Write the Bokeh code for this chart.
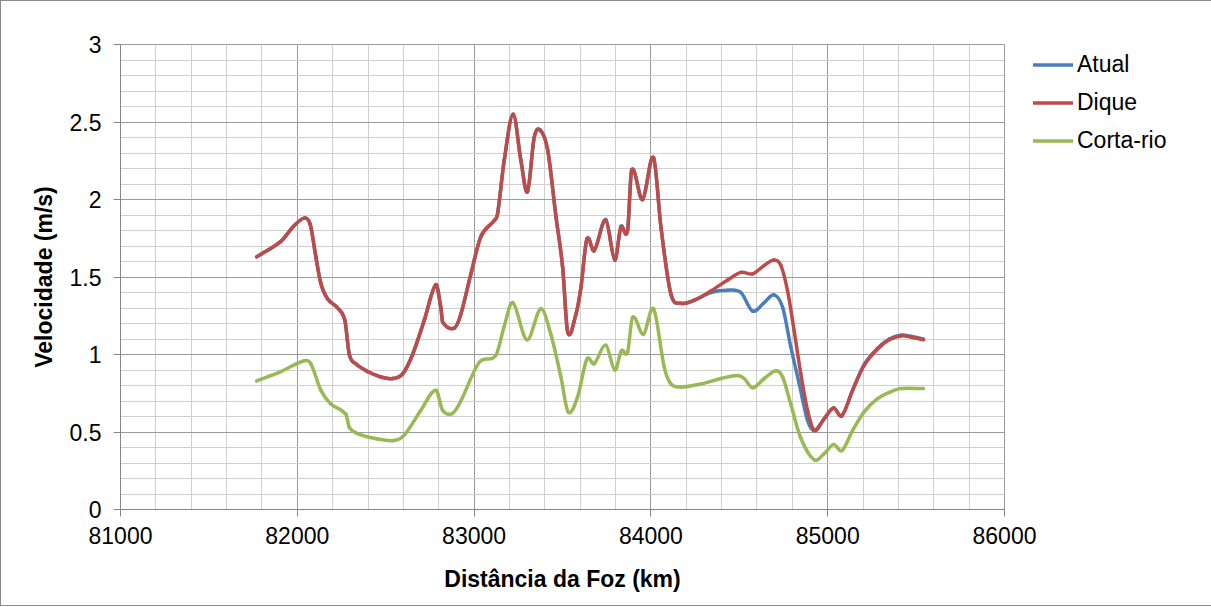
from bokeh.plotting import figure
from bokeh.models import Range1d, FixedTicker, NumeralTickFormatter, Legend, LegendItem
from bokeh.embed import file_html
from bokeh.resources import INLINE

# ---------------- data ----------------
x_dique = [81770, 81907, 81973, 82039, 82073, 82105, 82133, 82171, 82228, 82269, 82294, 82331,
           82398, 82473, 82539, 82596, 82652, 82718, 82784, 82812, 82822, 82888, 82925, 82982,
           83038, 83114, 83133, 83170, 83221, 83265, 83302, 83340, 83374, 83416, 83463, 83501,
           83529, 83576, 83604, 83638, 83679, 83745, 83796, 83830, 83868, 83891, 83953, 84015,
           84057, 84113, 84170, 84245, 84339, 84434, 84509, 84575, 84641, 84697, 84735, 84773,
           84810, 84848, 84886, 84924, 84980, 85033, 85080, 85141, 85206, 85282, 85348, 85414,
           85480, 85542]
v_dique = [1.63, 1.73, 1.82, 1.88, 1.84, 1.63, 1.46, 1.36, 1.30, 1.22, 1.00, 0.94,
           0.89, 0.855, 0.845, 0.875, 1.00, 1.22, 1.45, 1.30, 1.21, 1.17, 1.26, 1.52,
           1.76, 1.865, 1.91, 2.25, 2.55, 2.25, 2.05, 2.40, 2.445, 2.32, 1.89, 1.56,
           1.145, 1.26, 1.43, 1.745, 1.67, 1.865, 1.61, 1.82, 1.80, 2.19, 2.00, 2.27,
           1.82, 1.39, 1.33, 1.35, 1.41, 1.48, 1.53, 1.52, 1.575, 1.61, 1.575, 1.41,
           1.155, 0.875, 0.64, 0.51, 0.585, 0.655, 0.605, 0.77, 0.93, 1.035, 1.095, 1.12,
           1.11, 1.095]

x_atual = [81770, 81907, 81973, 82039, 82073, 82105, 82133, 82171, 82228, 82269, 82294, 82331,
           82398, 82473, 82539, 82596, 82652, 82718, 82784, 82812, 82822, 82888, 82925, 82982,
           83038, 83114, 83133, 83170, 83221, 83265, 83302, 83340, 83374, 83416, 83463, 83501,
           83529, 83576, 83604, 83638, 83679, 83745, 83796, 83830, 83868, 83891, 83953, 84015,
           84057, 84113, 84170, 84245, 84339, 84434, 84509, 84575, 84641, 84697, 84745, 84791,
           84839, 84886, 84924, 84980, 85033, 85080, 85141, 85206, 85282, 85348, 85414,
           85480, 85542]
v_atual = [1.63, 1.73, 1.82, 1.88, 1.84, 1.63, 1.46, 1.36, 1.30, 1.22, 1.00, 0.94,
           0.89, 0.855, 0.845, 0.875, 1.00, 1.22, 1.45, 1.30, 1.21, 1.17, 1.26, 1.52,
           1.76, 1.865, 1.91, 2.25, 2.55, 2.25, 2.05, 2.40, 2.45, 2.32, 1.89, 1.56,
           1.145, 1.26, 1.43, 1.745, 1.67, 1.87, 1.61, 1.825, 1.80, 2.19, 2.00, 2.27,
           1.82, 1.39, 1.33, 1.35, 1.40, 1.415, 1.40, 1.28, 1.335, 1.385, 1.305, 1.05,
           0.81, 0.575, 0.51, 0.585, 0.655, 0.605, 0.77, 0.935, 1.04, 1.10, 1.125,
           1.115, 1.10]

x_corta = [81770, 81907, 82039, 82077, 82133, 82190, 82275, 82294, 82341, 82454, 82548, 82605,
           82699, 82784, 82822, 82878, 82925, 83029, 83123, 83170, 83218, 83299, 83378, 83434,
           83491, 83532, 83585, 83638, 83679, 83745, 83796, 83834, 83868, 83896, 83958, 84015,
           84075, 84113, 84170, 84283, 84396, 84490, 84528, 84575, 84641, 84707, 84745, 84791,
           84848, 84924, 84980, 85033, 85080, 85141, 85206, 85282, 85348, 85414, 85542]
v_corta = [0.83, 0.89, 0.96, 0.94, 0.77, 0.68, 0.615, 0.53, 0.49, 0.455, 0.445, 0.48,
           0.64, 0.77, 0.64, 0.62, 0.70, 0.95, 0.995, 1.18, 1.335, 1.095, 1.295, 1.13,
           0.855, 0.63, 0.725, 0.97, 0.94, 1.06, 0.90, 1.025, 1.015, 1.24, 1.13, 1.295,
           0.92, 0.81, 0.79, 0.81, 0.845, 0.865, 0.845, 0.785, 0.845, 0.895, 0.855, 0.68,
           0.46, 0.32, 0.36, 0.42, 0.38, 0.51, 0.63, 0.715, 0.755, 0.78, 0.78]

series_names = ["Atual", "Dique", "Corta-rio"]
x_ticks = [81000, 82000, 83000, 84000, 85000, 86000]
y_ticks = [0, 0.5, 1, 1.5, 2, 2.5, 3]
x_label = "Distância da Foz (km)"
y_label = "Velocidade (m/s)"

# ---------------- styles ----------------
FONT = "Liberation Sans"
FS = "23px"
C_BLUE = "#4A7EBB"
C_RED = "#BE4B48"
C_GREEN = "#98B954"
MAJOR_GRID = "#9a9a9a"
MINOR_GRID = "#cfcfcf"
LW = 3.5

x_minor = [81000 + 200 * i for i in range(26)]
y_minor = [round(0.1 * i, 1) for i in range(31)]


def smooth_segments(xs, ys):
    """Bezier segments (Excel-like smoothed line) through the read points."""
    n = len(xs)
    m = []
    for i in range(n):
        if i == 0:
            m.append((ys[1] - ys[0]) / (xs[1] - xs[0]))
        elif i == n - 1:
            m.append((ys[-1] - ys[-2]) / (xs[-1] - xs[-2]))
        else:
            m.append((ys[i + 1] - ys[i - 1]) / (xs[i + 1] - xs[i - 1]))
    d = dict(x0=[], y0=[], x1=[], y1=[], cx0=[], cy0=[], cx1=[], cy1=[])
    for i in range(n - 1):
        h = xs[i + 1] - xs[i]
        d["x0"].append(xs[i]); d["y0"].append(ys[i])
        d["x1"].append(xs[i + 1]); d["y1"].append(ys[i + 1])
        d["cx0"].append(xs[i] + h / 3); d["cy0"].append(ys[i] + m[i] * h / 3)
        d["cx1"].append(xs[i + 1] - h / 3); d["cy1"].append(ys[i + 1] - m[i + 1] * h / 3)
    return d


p = figure(frame_width=884, frame_height=465, output_backend="svg", toolbar_location=None,
           x_range=Range1d(81000, 86000), y_range=Range1d(0, 3),
           min_border_left=119, min_border_right=204, min_border_top=43, min_border_bottom=96)
p.styles = {"border": "1px solid #8a8a8a"}
p.background_fill_color = "white"
p.border_fill_color = "white"
p.outline_line_color = MAJOR_GRID

xt = FixedTicker(ticks=x_ticks, minor_ticks=x_minor)
yt = FixedTicker(ticks=y_ticks, minor_ticks=y_minor)
p.xaxis.ticker = xt
p.yaxis.ticker = yt
p.xgrid.ticker = xt
p.ygrid.ticker = yt
for g in (p.xgrid, p.ygrid):
    g.grid_line_color = MAJOR_GRID
    g.grid_line_width = 1
    g.minor_grid_line_color = MINOR_GRID
    g.minor_grid_line_width = 1

p.xaxis.formatter = NumeralTickFormatter(format="0")
p.yaxis.formatter = NumeralTickFormatter(format="0.[0]")

for ax in (p.xaxis, p.yaxis):
    ax.axis_line_color = "#868686"
    ax.major_tick_line_color = "#868686"
    ax.major_tick_in = 0
    ax.major_tick_out = 7
    ax.minor_tick_line_color = None
    ax.major_label_text_font = FONT
    ax.major_label_text_font_size = FS
    ax.major_label_text_color = "black"
    ax.axis_label_text_font = FONT
    ax.axis_label_text_font_size = FS
    ax.axis_label_text_font_style = "bold"
    ax.axis_label_text_color = "black"

p.xaxis.axis_label = x_label
p.yaxis.axis_label = y_label
p.xaxis.major_label_standoff = 10
p.xaxis.axis_label_standoff = 19
p.yaxis.major_label_standoff = 12
p.yaxis.axis_label_standoff = 10

r_atual = p.bezier(line_color=C_BLUE, line_width=LW, line_cap="round",
                   **smooth_segments(x_atual, v_atual))
r_dique = p.bezier(line_color=C_RED, line_width=LW, line_cap="round",
                   **smooth_segments(x_dique, v_dique))
r_corta = p.bezier(line_color=C_GREEN, line_width=LW, line_cap="round",
                   **smooth_segments(x_corta, v_corta))

legend = Legend(items=[LegendItem(label=series_names[0], renderers=[r_atual]),
                       LegendItem(label=series_names[1], renderers=[r_dique]),
                       LegendItem(label=series_names[2], renderers=[r_corta])],
                location=(29, 350), orientation="vertical")
legend.glyph_width = 40
legend.glyph_height = 37
legend.label_height = 37
legend.label_standoff = 4
legend.padding = 0
legend.spacing = 1
legend.margin = 0
legend.border_line_color = None
legend.background_fill_alpha = 0
legend.label_text_font = FONT
legend.label_text_font_size = FS
legend.label_text_color = "black"
p.add_layout(legend, "right")

open("out.html", "w").write(file_html(p, INLINE))
